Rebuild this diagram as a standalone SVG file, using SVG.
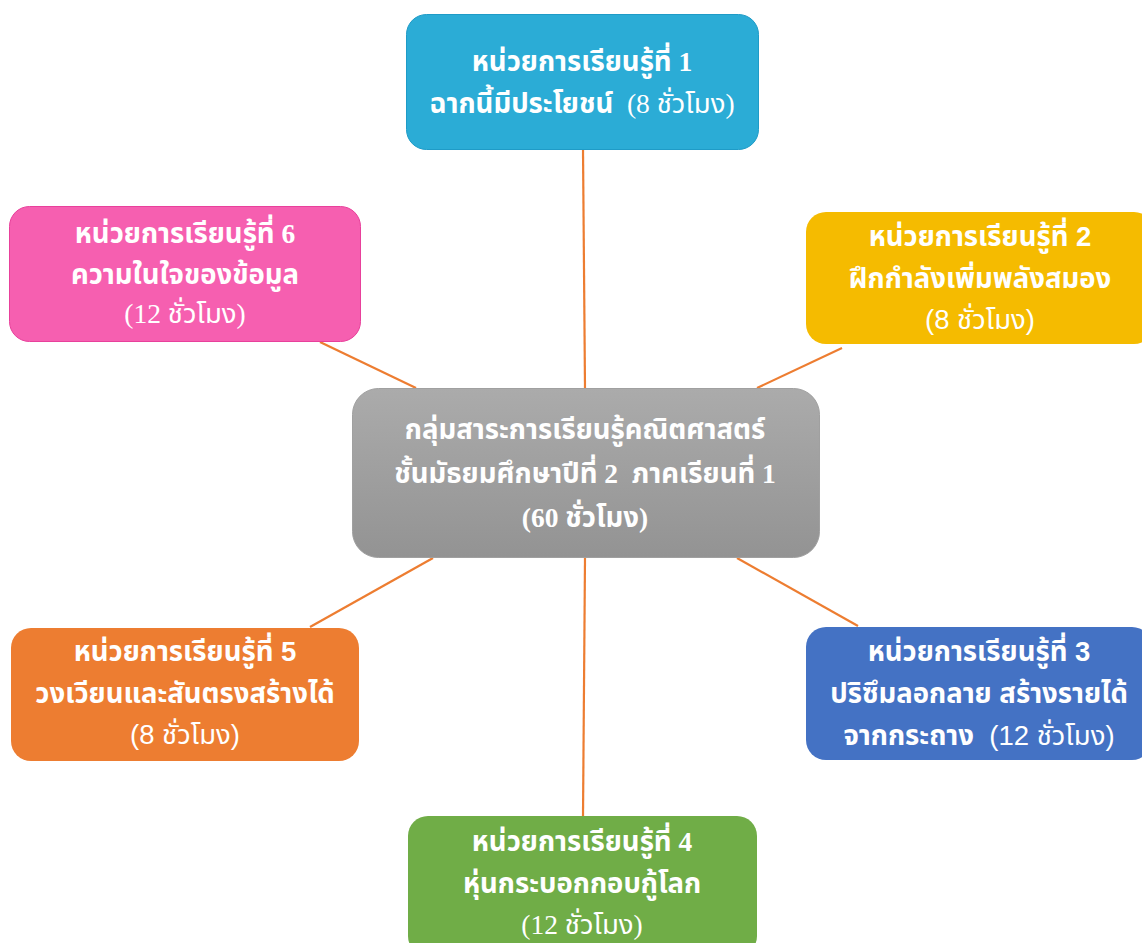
<svg xmlns="http://www.w3.org/2000/svg" width="1142" height="943" viewBox="0 0 1142 943">
<defs>
<linearGradient id="g" x1="0" y1="0" x2="0" y2="1">
<stop offset="0" stop-color="#ababab"/>
<stop offset="1" stop-color="#939393"/>
</linearGradient>
<style>
.t{fill:#fff;text-anchor:middle;font-size:27.5px;white-space:pre}
.s{font-family:"Liberation Serif","Noto Sans Thai","Noto Sans",serif}
.a{font-family:"Liberation Sans","Noto Sans Thai","Noto Sans",sans-serif}
.b{font-weight:bold}
.n{font-weight:normal}
.c line{stroke:#ED7D31;stroke-width:2.2}
</style>
</defs>
<rect width="1142" height="943" fill="#fff"/>
<g class="c" id="connectors">
<line x1="583" y1="150" x2="585" y2="388"/>
<line x1="320" y1="342" x2="416" y2="388"/>
<line x1="842" y1="348" x2="757" y2="388"/>
<line x1="433" y1="558" x2="310" y2="627"/>
<line x1="737" y1="558" x2="858" y2="626"/>
<line x1="585" y1="558" x2="583" y2="816"/>
</g>
<g id="center">
<rect x="352.5" y="388.5" width="467" height="169" rx="26" fill="url(#g)" stroke="#a0a0a0"/>
<text class="t s b" x="585" y="439">กลุ่มสาระการเรียนรู้คณิตศาสตร์</text>
<text class="t s b" x="585" y="483" xml:space="preserve">ชั้นมัธยมศึกษาปีที่ 2  ภาคเรียนที่ 1</text>
<text class="t s b" x="585" y="527">(60 ชั่วโมง)</text>
</g>
<g id="unit1">
<rect x="406.5" y="14.5" width="352" height="135" rx="20" fill="#2BACD6" stroke="#1f9bc7"/>
<text class="t s b" x="582" y="71">หน่วยการเรียนรู้ที่ 1</text>
<text class="t s" x="582" y="113" xml:space="preserve"><tspan class="b">ฉากนี้มีประโยชน์</tspan><tspan class="n">  (8 ชั่วโมง)</tspan></text>
</g>
<g id="unit2">
<rect x="806" y="212" width="348" height="132" rx="20" fill="#F5BB00"/>
<text class="t a b" x="980" y="246">หน่วยการเรียนรู้ที่ 2</text>
<text class="t a b" x="980" y="288">ฝึกกำลังเพิ่มพลังสมอง</text>
<text class="t a n" x="980" y="329">(8 ชั่วโมง)</text>
</g>
<g id="unit3">
<rect x="806" y="627" width="346" height="133" rx="20" fill="#4472C4"/>
<text class="t a b" x="979" y="661">หน่วยการเรียนรู้ที่ 3</text>
<text class="t a b" x="979" y="703">ปริซึมลอกลาย สร้างรายได้</text>
<text class="t a" x="979" y="745" xml:space="preserve"><tspan class="b">จากกระถาง</tspan><tspan class="n">  (12 ชั่วโมง)</tspan></text>
</g>
<g id="unit4">
<rect x="408" y="816" width="349" height="140" rx="20" fill="#70AD47"/>
<text class="t s b" x="582" y="851">หน่วยการเรียนรู้ที่ 4</text>
<text class="t s b" x="582" y="893">หุ่นกระบอกกอบกู้โลก</text>
<text class="t s n" x="582" y="934">(12 ชั่วโมง)</text>
</g>
<g id="unit5">
<rect x="11" y="628" width="348" height="133" rx="20" fill="#ED7D31"/>
<text class="t a b" x="185" y="661">หน่วยการเรียนรู้ที่ 5</text>
<text class="t a b" x="185" y="703">วงเวียนและสันตรงสร้างได้</text>
<text class="t a n" x="185" y="744">(8 ชั่วโมง)</text>
</g>
<g id="unit6">
<rect x="9.5" y="206.5" width="351" height="135" rx="20" fill="#F65FB0" stroke="#e8409b"/>
<text class="t s b" x="185" y="243">หน่วยการเรียนรู้ที่ 6</text>
<text class="t s b" x="185" y="284">ความในใจของข้อมูล</text>
<text class="t s n" x="185" y="323">(12 ชั่วโมง)</text>
</g>
</svg>
